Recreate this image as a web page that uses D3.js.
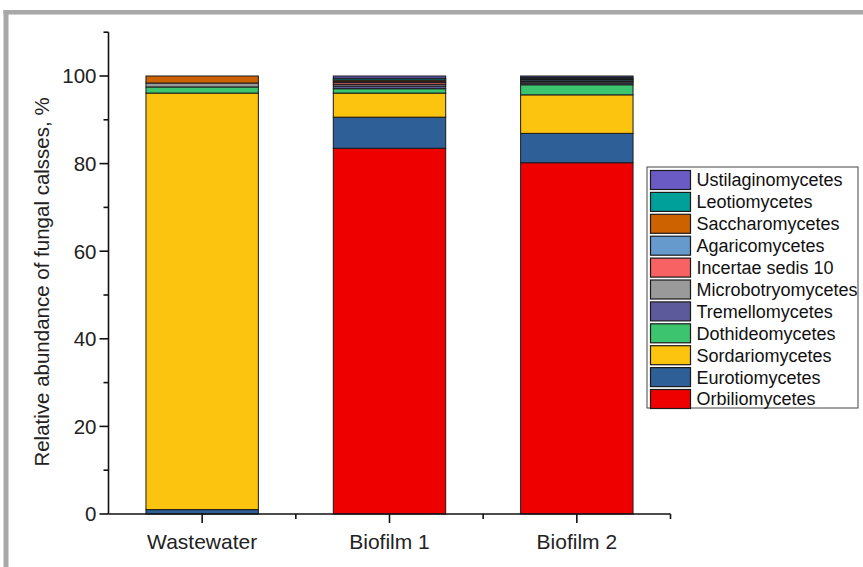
<!DOCTYPE html>
<html>
<head>
<meta charset="utf-8">
<script src="https://cdn.jsdelivr.net/npm/d3@7"></script>
<style>
  html, body { margin: 0; padding: 0; background: #ffffff; }
  svg { display: block; font-family: "Liberation Sans", Arial, sans-serif; }
</style>
</head>
<body>
<svg id="chart" width="863" height="567"></svg>
<script>
// Samples on the x axis
const samples = ["Wastewater", "Biofilm 1", "Biofilm 2"];

// Fungal classes, stacked bottom to top
const classes = [
  "Orbiliomycetes", "Eurotiomycetes", "Sordariomycetes", "Dothideomycetes",
  "Tremellomycetes", "Microbotryomycetes", "Incertae sedis 10", "Agaricomycetes",
  "Saccharomycetes", "Leotiomycetes", "Ustilaginomycetes"
];

// Relative abundance (%) of each class, one value per sample
const orbiliomycetes     = [0.0, 83.5, 80.2];
const eurotiomycetes     = [1.0, 7.1, 6.7];
const sordariomycetes    = [95.1, 5.5, 8.8];
const dothideomycetes    = [1.4, 1.0, 2.3];
const tremellomycetes    = [0.0, 0.6, 0.4];
const microbotryomycetes = [0.9, 0.4, 0.3];
const incertaeSedis10    = [0.0, 0.4, 0.2];
const agaricomycetes     = [0.0, 0.3, 0.3];
const saccharomycetes    = [1.6, 0.3, 0.2];
const leotiomycetes      = [0.0, 0.4, 0.3];
const ustilaginomycetes  = [0.0, 0.5, 0.3];

const seriesValues = [
  orbiliomycetes, eurotiomycetes, sordariomycetes, dothideomycetes,
  tremellomycetes, microbotryomycetes, incertaeSedis10, agaricomycetes,
  saccharomycetes, leotiomycetes, ustilaginomycetes
];

const classColors = [
  "#ee0000", "#2f5f97", "#fcc30f", "#3cc46e",
  "#5d5a9c", "#9a9a9a", "#f86262", "#6699cc",
  "#cc6300", "#00a09a", "#6a5bc4"
];

const yTicks = [0, 20, 40, 60, 80, 100];
const yMinorTicks = [10, 30, 50, 70, 90, 110];

// Table for d3.stack
const table = samples.map((s, i) => {
  const row = { sample: s };
  classes.forEach((c, k) => { row[c] = seriesValues[k][i]; });
  return row;
});

const svg = d3.select("#chart");

// Page frame
svg.append("rect").attr("x", 3.5).attr("y", 10).attr("width", 5).attr("height", 557).attr("fill", "#a8a8a8");
svg.append("rect").attr("x", 3.5).attr("y", 10).attr("width", 860).attr("height", 4.5).attr("fill", "#a8a8a8");

const plot = { left: 108.5, right: 670.5, top: 76, bottom: 514 };

const x = d3.scaleBand()
  .domain(samples)
  .range([plot.left, plot.right])
  .paddingInner(0.4)
  .paddingOuter(0.2);

const y = d3.scaleLinear().domain([0, 100]).range([plot.bottom, plot.top]);
const yTop = y(110);

const stack = d3.stack().keys(classes);
const layers = stack(table);

const color = d3.scaleOrdinal().domain(classes).range(classColors);

// Bars
svg.append("g")
  .selectAll("g")
  .data(layers)
  .join("g")
  .attr("fill", d => color(d.key))
  .selectAll("rect")
  .data(d => d.filter(p => p[1] - p[0] > 0))
  .join("rect")
  .attr("x", d => x(d.data.sample))
  .attr("width", x.bandwidth())
  .attr("y", d => y(d[1]))
  .attr("height", d => y(d[0]) - y(d[1]))
  .attr("stroke", "#1a1a1a")
  .attr("stroke-width", 1.0);

// Y axis
const yAxis = svg.append("g").attr("transform", `translate(${plot.left},0)`);
yAxis.append("line")
  .attr("x1", 0).attr("x2", 0).attr("y1", yTop).attr("y2", plot.bottom)
  .attr("stroke", "#111").attr("stroke-width", 1.6);
yAxis.selectAll(".major")
  .data(yTicks).join("line")
  .attr("x1", -9).attr("x2", 0)
  .attr("y1", d => y(d)).attr("y2", d => y(d))
  .attr("stroke", "#111").attr("stroke-width", 1.6);
yAxis.selectAll(".minor")
  .data(yMinorTicks).join("line")
  .attr("x1", -5).attr("x2", 0)
  .attr("y1", d => y(d)).attr("y2", d => y(d))
  .attr("stroke", "#111").attr("stroke-width", 1.6);
yAxis.selectAll("text")
  .data(yTicks).join("text")
  .attr("x", -12).attr("y", d => y(d))
  .attr("dy", "0.36em")
  .attr("text-anchor", "end")
  .attr("font-size", 20.5)
  .attr("fill", "#222")
  .text(d => d);

// X axis
const xAxis = svg.append("g").attr("transform", `translate(0,${plot.bottom})`);
xAxis.append("line")
  .attr("x1", plot.left).attr("x2", plot.right).attr("y1", 0).attr("y2", 0)
  .attr("stroke", "#111").attr("stroke-width", 1.6);
const step = x.step();
xAxis.selectAll(".major")
  .data(samples).join("line")
  .attr("x1", d => x(d) + x.bandwidth() / 2).attr("x2", d => x(d) + x.bandwidth() / 2)
  .attr("y1", 0).attr("y2", 9)
  .attr("stroke", "#111").attr("stroke-width", 1.6);
xAxis.selectAll(".minor")
  .data(samples).join("line")
  .attr("x1", d => x(d) + x.bandwidth() / 2 + step / 2).attr("x2", d => x(d) + x.bandwidth() / 2 + step / 2)
  .attr("y1", 0).attr("y2", 5)
  .attr("stroke", "#111").attr("stroke-width", 1.6);
xAxis.selectAll("text")
  .data(samples).join("text")
  .attr("x", d => x(d) + x.bandwidth() / 2)
  .attr("y", 34.5)
  .attr("text-anchor", "middle")
  .attr("font-size", 21)
  .attr("fill", "#222")
  .text(d => d);

// Y axis title
svg.append("text")
  .attr("transform", "translate(49,282) rotate(-90)")
  .attr("text-anchor", "middle")
  .attr("font-size", 20.5)
  .attr("fill", "#222")
  .text("Relative abundance of fungal calsses, %");

// Legend, top entry is the last stacked class
const legendItems = classes.slice().reverse();
const legend = svg.append("g").attr("transform", "translate(647,167)");
legend.append("rect")
  .attr("x", 0).attr("y", 0).attr("width", 211).attr("height", 241)
  .attr("fill", "#ffffff").attr("stroke", "#444").attr("stroke-width", 1);
const rows = legend.selectAll(".row")
  .data(legendItems).join("g")
  .attr("transform", (d, i) => `translate(3.5,${3.5 + i * 21.9})`);
rows.append("rect")
  .attr("width", 40).attr("height", 19)
  .attr("fill", d => color(d))
  .attr("stroke", "#1a1a1a").attr("stroke-width", 1.2);
rows.append("text")
  .attr("x", 46).attr("y", 9.5).attr("dy", "0.36em")
  .attr("font-size", 18)
  .attr("fill", "#111")
  .text(d => d);
</script>
</body>
</html>
